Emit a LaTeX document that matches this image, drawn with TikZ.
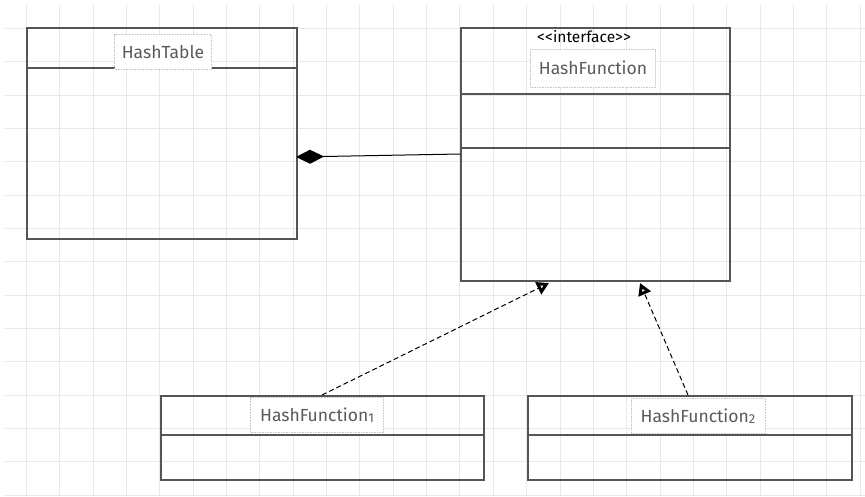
\documentclass[tikz,border=0pt]{standalone}
\usepackage{fontspec}
\setmainfont{Fira Sans}
\newfontfamily\stfont{Fira Sans}[Ligatures=NoCommon]
\usetikzlibrary{arrows.meta}
\definecolor{gridc}{HTML}{E8E8E8}
\definecolor{boxc}{HTML}{555555}
\definecolor{txtc}{HTML}{5A5A5A}
\definecolor{dotc}{HTML}{C8C8C8}
\tikzset{
  umlbox/.style={draw=boxc, line width=1.5pt},
  sepline/.style={draw=boxc, line width=1.5pt},
  title/.style={fill=white, draw=dotc, densely dotted, line width=0.6pt, text=txtc, font=\fontsize{17.5}{20}\selectfont, inner sep=0pt, align=center},
  stereo/.style={text=black, font=\stfont\fontsize{15.5}{17}\selectfont, inner sep=0pt},
  realize/.style={dash pattern=on 5pt off 3pt, line width=1pt, draw=black, -{Triangle[open, length=12pt, width=13pt, line width=3pt]}},
}
\begin{document}
\begin{tikzpicture}[x=1pt,y=-1pt]
\useasboundingbox (0,0) rectangle (865,496);
\fill[white] (0,0) rectangle (865,496);
% grid
\foreach \i in {0,...,25} {
  \draw[gridc, line width=1pt] ({26.3+33.36*\i},5) -- ({26.3+33.36*\i},496);
}
\foreach \j in {0,...,14} {
  \draw[gridc, line width=1pt] (5,{28.3+33.36*\j}) -- (865,{28.3+33.36*\j});
}
% HashTable
\node[umlbox, minimum width=270pt, minimum height=211pt, anchor=north west, inner sep=0pt] (ht) at (26,27) {};
\draw[sepline] (26,68) -- (296,68);
\node[title, minimum width=97pt, minimum height=35pt] (htl) at (163,52) {HashTable};
% HashFunction interface
\node[umlbox, minimum width=269pt, minimum height=253pt, anchor=north west, inner sep=0pt] (hf) at (460,27) {};
\draw[sepline] (460,94) -- (729,94);
\draw[sepline] (460,148) -- (729,148);
\node[stereo] (st) at (584,37) {<\kern0.3pt<\kern0.3pt interface>\kern0.3pt>};
\node[title, minimum width=125pt, minimum height=38pt] (hfl) at (593,68) {HashFunction};
% HashFunction1
\node[umlbox, minimum width=323pt, minimum height=84pt, anchor=north west, inner sep=0pt] (h1) at (160,395) {};
\draw[sepline] (160,435) -- (483,435);
\node[title, minimum width=133pt, minimum height=35pt] (h1l) at (317,415) {HashFunction\raisebox{-0.1ex}{\fontsize{13}{15}\selectfont 1}};
% HashFunction2
\node[umlbox, minimum width=324pt, minimum height=84pt, anchor=north west, inner sep=0pt] (h2) at (527,395) {};
\draw[sepline] (527,435) -- (851,435);
\node[title, minimum width=134pt, minimum height=35pt] (h2l) at (698,416) {HashFunction\raisebox{-0.1ex}{\fontsize{13}{15}\selectfont 2}};
% composition
\coordinate (cA) at (296,157);
\coordinate (cB) at (460,154);
\draw[line width=1pt, {Diamond[length=28pt, width=14pt, fill=black]}-] (cA) -- (cB);
% realizations
\coordinate (r1s) at (322,395);
\coordinate (r1e) at (549,283);
\coordinate (r2s) at (688,395);
\coordinate (r2e) at (640,283);
\draw[realize] (r1s) -- (r1e);
\draw[realize] (r2s) -- (r2e);
\end{tikzpicture}
\end{document}
